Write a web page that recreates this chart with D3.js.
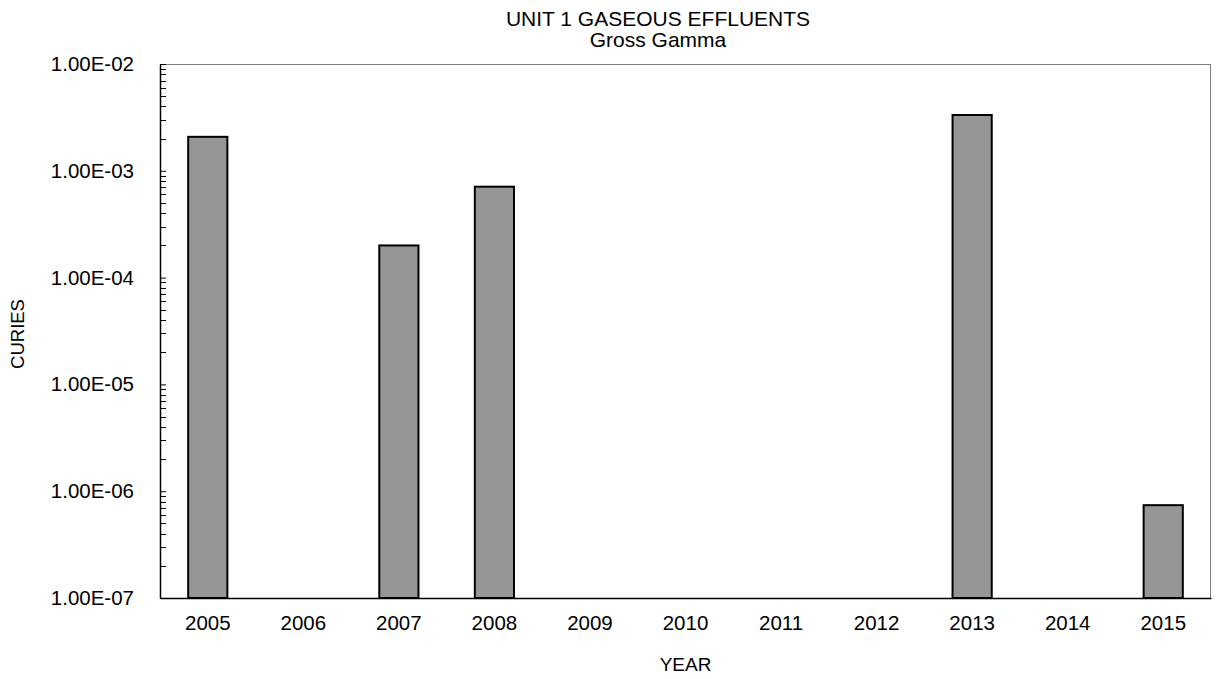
<!DOCTYPE html>
<html><head><meta charset="utf-8">
<script src="https://cdn.jsdelivr.net/npm/d3@7"></script>
<style>body{margin:0;background:#fff}svg{display:block}text{font-family:"Liberation Sans",Arial,sans-serif;fill:#000}</style>
</head><body>
<svg id="c" width="1219" height="679"></svg>
<script>
const years = ["2005","2006","2007","2008","2009","2010","2011","2012","2013","2014","2015"];
const curies = [2.08e-3, null, 2.0e-4, 7.1e-4, null, null, null, null, 3.33e-3, null, 7.4e-7];
const yTickValues = [1e-7,1e-6,1e-5,1e-4,1e-3,1e-2];
const yTickLabels = ["1.00E-07","1.00E-06","1.00E-05","1.00E-04","1.00E-03","1.00E-02"];

const svg = d3.select("#c");
const L=160, R=1211, T=64, B=598;
const x = d3.scaleBand().domain(years).range([L,R]).paddingInner(0.59).paddingOuter(0.295);
const y = d3.scaleLog().domain([1e-7,1e-2]).range([B,T]);

// frame top/right grey
svg.append("line").attr("x1",L).attr("x2",R).attr("y1",T+0.5).attr("y2",T+0.5).attr("stroke","#808080");
svg.append("line").attr("x1",R-0.5).attr("x2",R-0.5).attr("y1",T).attr("y2",B).attr("stroke","#808080");

// bars
const data = years.map((yr,i)=>({yr, v:curies[i]})).filter(d=>d.v!=null);
svg.append("g").selectAll("rect").data(data).join("rect")
  .attr("x",d=>x(d.yr)).attr("width",x.bandwidth())
  .attr("y",d=>y(d.v)).attr("height",d=>y(1e-7)-y(d.v))
  .attr("fill","#969696").attr("stroke","#000").attr("stroke-width",2);

// minor ticks
const minor=[];
for(let e=-7;e<-2;e++) for(let m=2;m<=9;m++) minor.push(m*Math.pow(10,e));
svg.append("g").selectAll("line").data(minor).join("line")
  .attr("x1",L).attr("x2",L+6).attr("y1",d=>Math.round(y(d))+0.5).attr("y2",d=>Math.round(y(d))+0.5)
  .attr("stroke","#000").attr("stroke-width",1);

// y axis
const yAxis = d3.axisLeft(y).tickValues(yTickValues).tickFormat((d,i)=>yTickLabels[i]).tickSize(0).tickPadding(26);
const gy = svg.append("g").attr("transform",`translate(${L},0)`).call(yAxis);
gy.select(".domain").attr("stroke","#000").attr("stroke-width",1.5);
gy.selectAll("text").style("font-size","20.5px").attr("font-family","Liberation Sans, Arial, sans-serif");
gy.selectAll(".tick").append("line").attr("x1",0).attr("x2",6).attr("stroke","#000");

// x axis
const xAxis = d3.axisBottom(x).tickSize(0).tickPadding(17);
const gx = svg.append("g").attr("transform",`translate(0,${B})`).call(xAxis);
gx.select(".domain").attr("stroke","#000").attr("stroke-width",1.5);
gx.selectAll("text").style("font-size","20.5px").attr("font-family","Liberation Sans, Arial, sans-serif");

// titles
svg.append("text").attr("x",658).attr("y",26).attr("text-anchor","middle").style("font-size","21px").text("UNIT 1 GASEOUS EFFLUENTS");
svg.append("text").attr("x",658).attr("y",47).attr("text-anchor","middle").style("font-size","21px").text("Gross Gamma");
svg.append("text").attr("x",(L+R)/2).attr("y",671).attr("text-anchor","middle").style("font-size","19px").text("YEAR");
svg.append("text").attr("transform","translate(24,334) rotate(-90)").attr("text-anchor","middle").style("font-size","18.5px").text("CURIES");
</script>
</body></html>
